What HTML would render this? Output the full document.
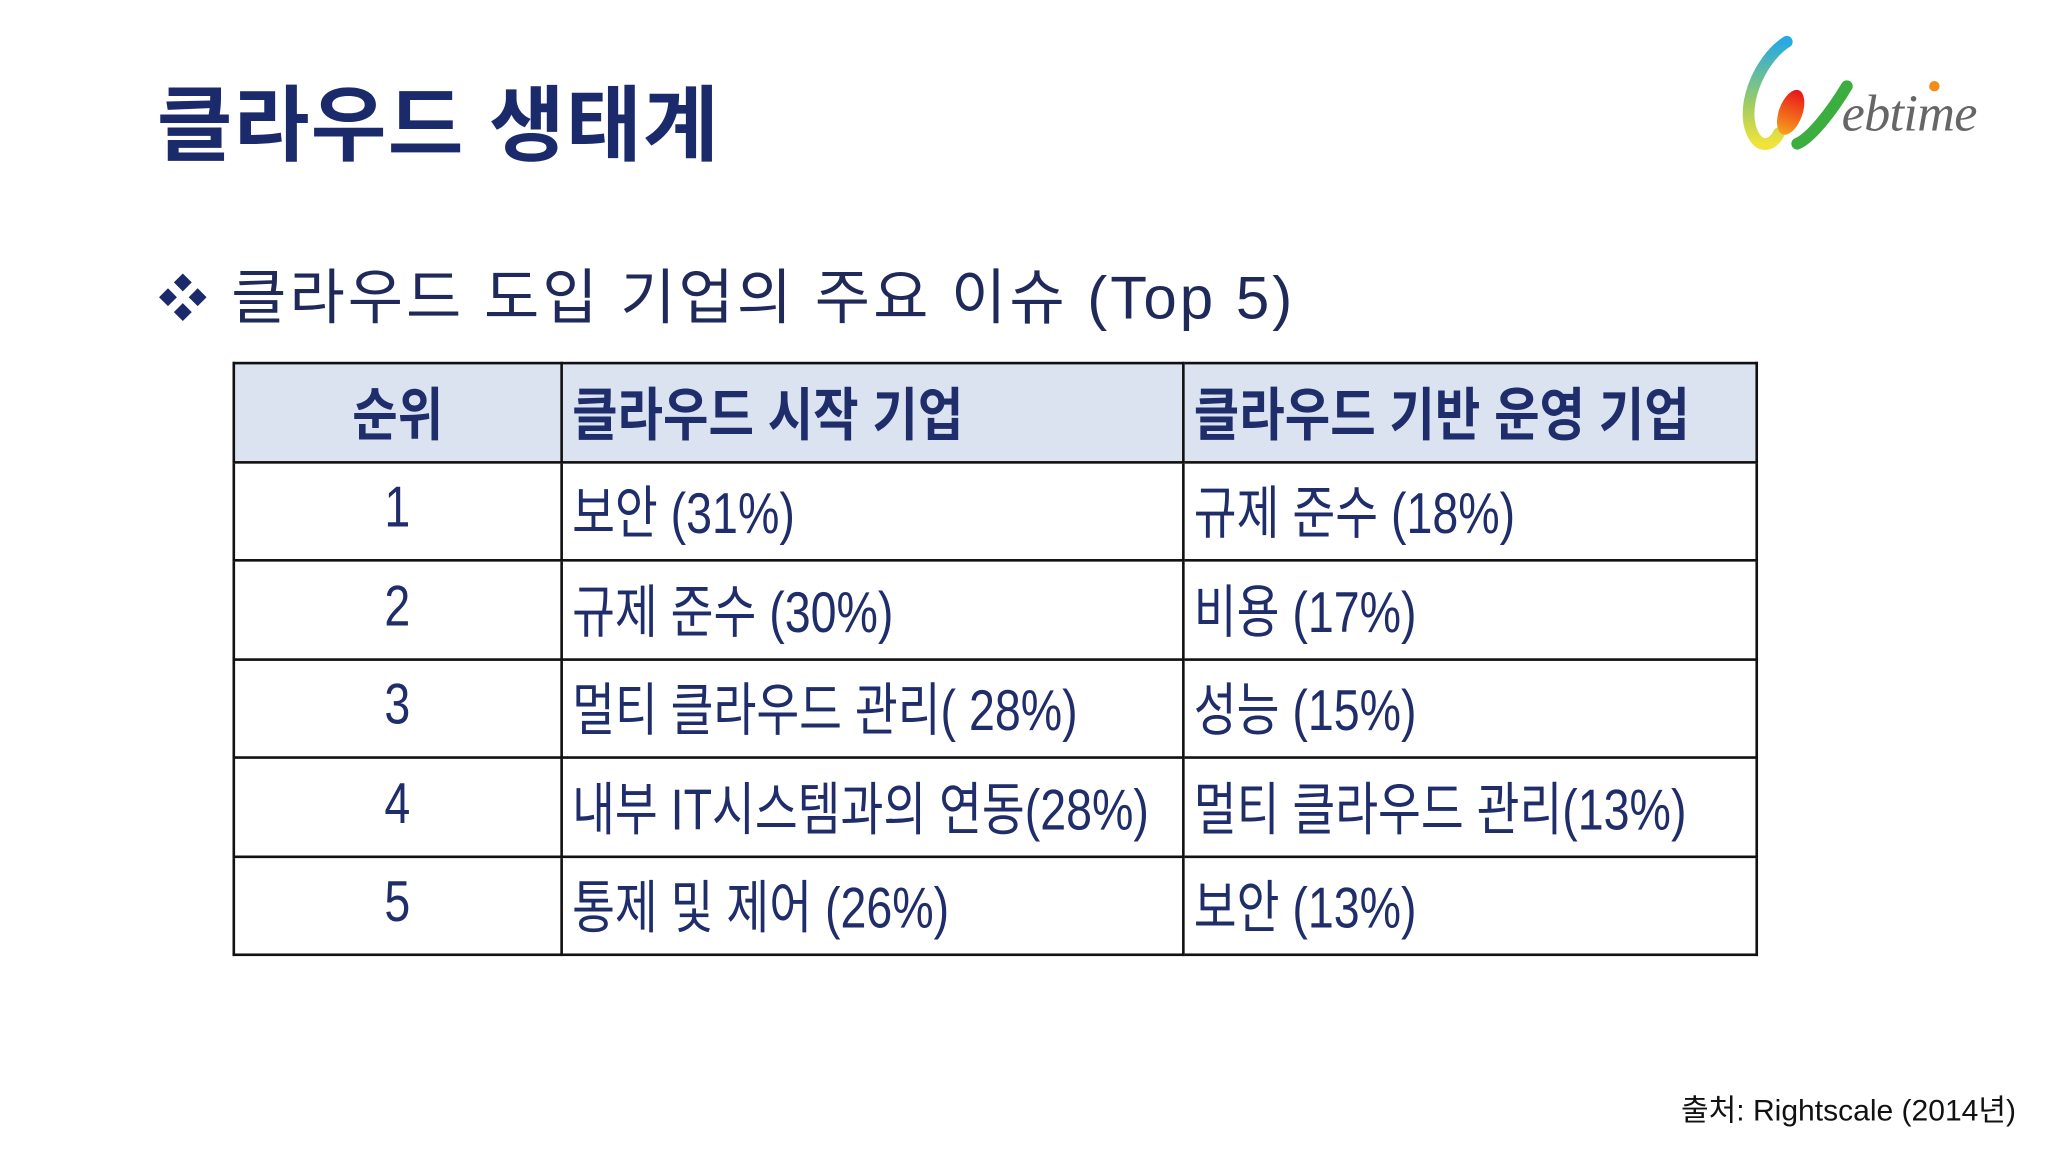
<!DOCTYPE html>
<html><head><meta charset="utf-8"><style>
html,body{margin:0;padding:0;background:#fff;}
#wrap{width:2048px;height:1152px;overflow:hidden;position:relative;background:#fff;}
#stage{position:absolute;left:0;top:0;width:1568px;height:882px;transform:scale(1.30612);transform-origin:0 0;font-family:"Liberation Sans","Noto Sans CJK KR",sans-serif;}
.abs{position:absolute;white-space:nowrap;}
table{position:absolute;left:178px;top:277px;width:1166px;border-collapse:collapse;table-layout:fixed;}
td{border:2px solid #111;height:75.5px;padding:0 0 4px 7px;box-sizing:border-box;color:#1f2d6b;font-size:44px;overflow:hidden;white-space:nowrap;vertical-align:middle;}
td span{display:inline-block;transform:scaleX(0.81);transform-origin:left center;}
td.c{text-align:center;padding:0 0 4px 0;}
td.c span{transform-origin:center center;}
tr.h td{background:#dbe3f1;font-weight:bold;}
tr.h td span{transform:scaleX(0.86);}
</style></head><body>
<div id="wrap"><div id="stage">
<div class="abs" style="left:120px;top:46px;font-size:63px;font-weight:bold;color:#1b2a6b;letter-spacing:1px;">클라우드 생태계</div>
<div class="abs" style="left:121px;top:198px;font-size:38px;color:#1b2a6b;">❖</div>
<div class="abs" style="left:177px;top:192px;font-size:46px;color:#1f2a5a;letter-spacing:2.3px;">클라우드 도입 기업의 주요 이슈 (Top 5)</div>
<svg class="abs" style="left:1326px;top:26px" width="200" height="92" viewBox="0 0 200 92">
<defs><linearGradient id="g1" x1="0" y1="0" x2="0" y2="1"><stop offset="0" stop-color="#27a9e1"/><stop offset="0.6" stop-color="#9ccc65"/><stop offset="1" stop-color="#f2e33a"/></linearGradient>
<linearGradient id="g2" x1="0" y1="0" x2="0" y2="1"><stop offset="0" stop-color="#e8141b"/><stop offset="1" stop-color="#f7a21b"/></linearGradient></defs>
<path d="M42 6 C20 20 4 60 18 80 C24 88 32 84 36 76" stroke="url(#g1)" stroke-width="9" fill="none" stroke-linecap="round"/>
<ellipse cx="45" cy="60" rx="9" ry="18" fill="url(#g2)" transform="rotate(20 45 60)"/>
<path d="M50 84 C60 80 76 60 88 40" stroke="#3bae3f" stroke-width="9" fill="none" stroke-linecap="round"/>
<text x="84" y="74" font-family="Liberation Serif,serif" font-style="italic" font-size="40" fill="#666" textLength="104">ebtime</text>
<circle cx="155" cy="40" r="4" fill="#f28c1b"/>
</svg>
<table>
<colgroup><col style="width:251px"><col style="width:476px"><col style="width:439px"></colgroup>
<tr class="h"><td class="c"><span>순위</span></td><td><span>클라우드 시작 기업</span></td><td><span>클라우드 기반 운영 기업</span></td></tr>
<tr><td class="c"><span>1</span></td><td><span>보안 (31%)</span></td><td><span>규제 준수 (18%)</span></td></tr>
<tr><td class="c"><span>2</span></td><td><span>규제 준수 (30%)</span></td><td><span>비용 (17%)</span></td></tr>
<tr><td class="c"><span>3</span></td><td><span>멀티 클라우드 관리( 28%)</span></td><td><span>성능 (15%)</span></td></tr>
<tr><td class="c"><span>4</span></td><td><span>내부 IT시스템과의 연동(28%)</span></td><td><span>멀티 클라우드 관리(13%)</span></td></tr>
<tr><td class="c"><span>5</span></td><td><span>통제 및 제어 (26%)</span></td><td><span>보안 (13%)</span></td></tr>
</table>
<div class="abs" style="left:1287px;top:831px;font-size:23px;color:#111;">출처: Rightscale (2014년)</div>
</div></div>
</body></html>
